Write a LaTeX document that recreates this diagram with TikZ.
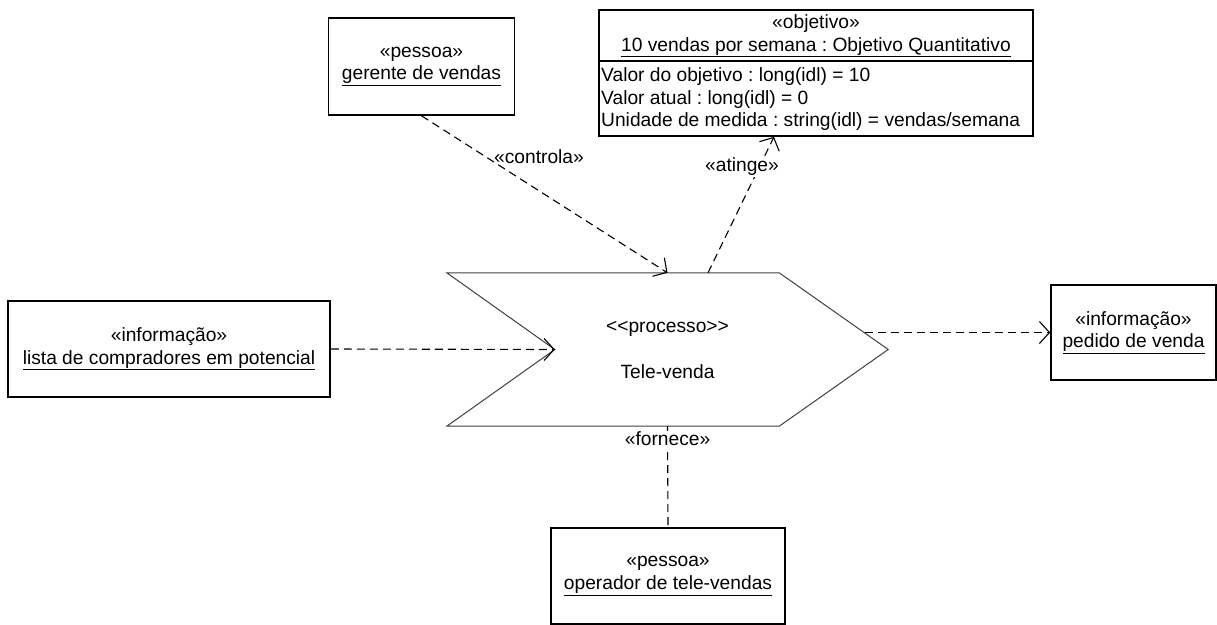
\documentclass[tikz,border=0pt]{standalone}
\usepackage{fontspec}
\setmainfont{Liberation Sans}
\usetikzlibrary{arrows.meta,calc}
\frenchspacing
\begin{document}
\begin{tikzpicture}[x=1pt,y=-1pt,
  every node/.style={font=\fontsize{19.2}{22.5}\selectfont, inner sep=0pt},
  umlbox/.style={draw, line width=1.6pt, align=center},
  dep/.style={dash pattern=on 8pt off 5pt, line width=1.1pt},
  opentip/.style={-{Straight Barb[length=10pt,width=22pt]}},
  chev/.style={draw=black!75, line width=1pt},
  deplabel/.style={fill=white, inner sep=1pt}
]
% canvas
\fill[white] (0,0) rectangle (1217,624);
\useasboundingbox (0,0) rectangle (1217,624);

% classifier boxes
\node[umlbox, minimum width=186, minimum height=97] (ger) at (421.5,66.5)
  {«pessoa»\\\underline{gerente de vendas}};
\node[umlbox, minimum width=322, minimum height=96] (lista) at (169,349)
  {«informação»\\\underline{lista de compradores em potencial}};
\node[umlbox, minimum width=165, minimum height=95] (ped) at (1133.5,332.5)
  {«informação»\\\underline{pedido de venda}};
\node[umlbox, minimum width=234, minimum height=96] (oper) at (668,576)
  {«pessoa»\\\underline{operador de tele-vendas}};

% goal object with attribute compartment
\node[draw, line width=1.6pt, minimum width=434, minimum height=126] (obj) at (816,73) {};
\node[align=center] (objtitle) at (816,36)
  {«objetivo»\\\underline{10 vendas por semana : Objetivo Quantitativo}};
\node[align=left, anchor=west] (objattr) at (601,99.5)
  {Valor do objetivo : long(idl) = 10\\Valor atual : long(idl) = 0\\Unidade de medida : string(idl) = vendas/semana};
\draw[line width=1.6pt] (obj.west |- 0,61) -- (obj.east |- 0,61);

% process chevron
\node[minimum width=441, minimum height=153, align=center] (proc) at (667.5,349.5)
  {<{}<processo>{}>\\[23.5pt]Tele-venda};
\draw[chev] (proc.north west) -- ($(proc.north east)+(-109,0)$) -- (proc.east)
  -- ($(proc.south east)+(-109,0)$) -- (proc.south west) -- ($(proc.west)+(108,0)$) -- cycle;
\coordinate (notch) at ($(proc.west)+(108,0)$);
\coordinate (outstart) at (864.5,332.5);
\coordinate (goalfoot) at ($(proc.north)+(40.5,0)$);
\coordinate (goalend) at ($(obj.south)+(-42,0)$);

% dependencies
\draw[dep, opentip] (ger.south) -- (proc.north);
\node (lblcontrola) at (539,157) {«controla»};
\draw[dep, opentip] (goalfoot) -- (goalend);
\node[deplabel] (lblatinge) at (742,167) {«atinge»};
\draw[dep, opentip] (lista.east) -- (notch);
\draw[dep, opentip] (outstart) -- (ped.west);
\draw[dep] (proc.south) -- (oper.north)
  node[deplabel, pos=0.125] (lblfornece) {«fornece»};
\end{tikzpicture}
\end{document}
